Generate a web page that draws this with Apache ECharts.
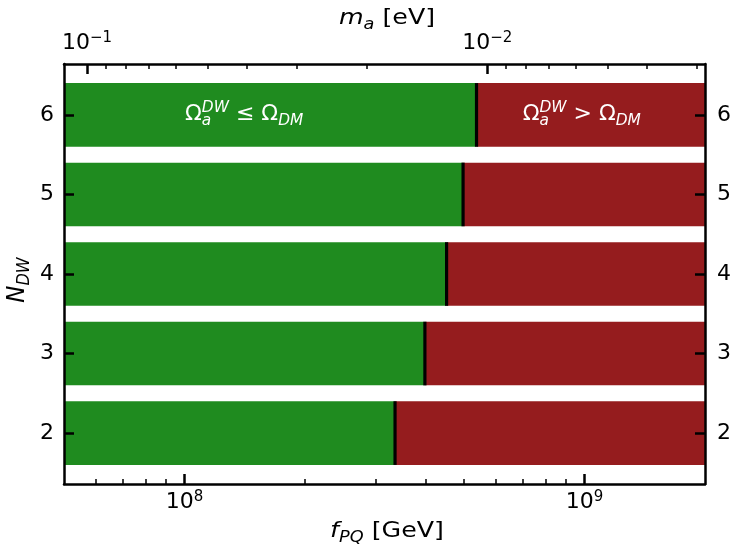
<!DOCTYPE html>
<html><head><meta charset="utf-8">
<script src="https://cdn.jsdelivr.net/npm/echarts@6/dist/echarts.min.js"></script>
<style>html,body{margin:0;padding:0;background:#fff}#c{width:734px;height:550px}</style>
</head><body><div id="c"></div>
<script>
// ---- data ----
const nDW = [2, 3, 4, 5, 6];
const fBoundary = [3.36e8, 3.99e8, 4.52e8, 4.97e8, 5.37e8];   // GeV
const fRange = [5e7, 2e9];                                      // GeV
const maTimesF = 5.71e6;                                        // m_a [eV] * f_PQ [GeV]
const xMajorTicks = [1e8, 1e9];
const xMinorTicks = [6e7, 7e7, 8e7, 9e7, 2e8, 3e8, 4e8, 5e8, 6e8, 7e8, 8e8, 9e8];
const topMajorTicks = [1e-1, 1e-2];
const topMinorTicks = [9e-2, 8e-2, 7e-2, 6e-2, 5e-2, 4e-2, 3e-2, 2e-2, 9e-3, 8e-3, 7e-3, 6e-3, 5e-3, 4e-3, 3e-3];
const nTicks = [2, 3, 4, 5, 6];
const regionLabelF = [1.41e8, 9.84e8];
const regionLabelN = 6;

// ---- style ----
const GREEN = '#1f8b1f', RED = '#951c1e';
const FONT = 'DejaVu Sans';
const L = Math.log10;
const gridL = 64, gridR = 24, gridT = 64, gridB = 66;
const W = 734, H = 550;

function mathGroup(pieces, color) {
  const ctx = document.createElement('canvas').getContext('2d');
  const fnt = p => (p.it ? 'italic ' : '') + p.s + 'px "' + FONT + '"';
  let x = 0; const items = [];
  const place = (p, x0) => { ctx.font = fnt(p); items.push({ p, x: x0 }); return ctx.measureText(p.t).width; };
  for (const p of pieces) {
    if (p.stack) { let mw = 0; for (const q of p.stack) mw = Math.max(mw, place(q, x)); x += mw; }
    else x += place(p, x);
  }
  const total = x;
  return items.map(({ p, x }) => ({
    type: 'text', x: x - total / 2, y: (p.dy || 0) - 0.35 * p.s, silent: true,
    style: { text: p.t, fill: color, fontSize: p.s, fontFamily: FONT, fontStyle: p.it ? 'italic' : 'normal',
             align: 'left', verticalAlign: 'middle' }
  }));
}

const S = 22, s = 15.4;
const lblGreen = [{ t: 'Ω', s: S }, { stack: [{ t: 'DW', s: s, it: 1, dy: -9 }, { t: 'a', s: s, it: 1, dy: 4 }] },
  { t: ' ≤ ', s: S }, { t: 'Ω', s: S }, { t: 'DM', s: s, it: 1, dy: 4 }];
const lblRed = [{ t: 'Ω', s: S }, { stack: [{ t: 'DW', s: s, it: 1, dy: -9 }, { t: 'a', s: s, it: 1, dy: 4 }] },
  { t: ' > ', s: S }, { t: 'Ω', s: S }, { t: 'DM', s: s, it: 1, dy: 4 }];

const supRich = {
  b: { fontSize: 22, lineHeight: 25, fontFamily: FONT, color: '#000' },
  sup: { fontSize: 15, verticalAlign: 'top', fontFamily: FONT, color: '#000' }
};
const expStr = e => String(e).replace('-', '\u2212');

const xLo = L(fRange[0]), xHi = L(fRange[1]);
const mLo = L(maTimesF / fRange[1]), mHi = L(maTimesF / fRange[0]);

const baseAxis = {
  type: 'value', splitLine: { show: false }, z: 10,
  axisLine: { show: true, lineStyle: { color: '#000', width: 2.5 } }
};

const option = {
  animation: false,
  grid: { left: gridL, right: gridR, top: gridT, bottom: gridB, containLabel: false },
  xAxis: [
    Object.assign({}, baseAxis, {
      position: 'bottom', min: xLo, max: xHi,
      axisTick: { inside: true, length: 10, lineStyle: { width: 2.5, color: '#000' }, customValues: xMajorTicks.map(L) },
      axisLabel: { margin: 6, customValues: xMajorTicks.map(L), rich: supRich,
        formatter: v => '{b|10}{sup|' + expStr(Math.round(v)) + '}' }
    }),
    Object.assign({}, baseAxis, {
      position: 'bottom', min: xLo, max: xHi, axisLine: { show: false },
      axisTick: { inside: true, length: 5, lineStyle: { width: 1.5, color: '#000' }, customValues: xMinorTicks.map(L) },
      axisLabel: { show: false }
    }),
    Object.assign({}, baseAxis, {
      position: 'top', min: mLo, max: mHi, inverse: true,
      axisTick: { inside: true, length: 10, lineStyle: { width: 2.5, color: '#000' }, customValues: topMajorTicks.map(L) },
      axisLabel: { margin: 8, customValues: topMajorTicks.map(L), rich: supRich,
        formatter: v => '{b|10}{sup|' + expStr(Math.round(v)) + '}' }
    }),
    Object.assign({}, baseAxis, {
      position: 'top', min: mLo, max: mHi, inverse: true, axisLine: { show: false },
      axisTick: { inside: true, length: 5, lineStyle: { width: 1.5, color: '#000' }, customValues: topMinorTicks.map(L) },
      axisLabel: { show: false }
    })
  ],
  yAxis: [
    Object.assign({}, baseAxis, {
      position: 'left', min: 1.36, max: 6.64,
      axisTick: { inside: true, length: 10, lineStyle: { width: 2.5, color: '#000' }, customValues: nTicks },
      axisLabel: { margin: 10, customValues: nTicks, fontSize: 22, fontFamily: FONT, color: '#000' }
    }),
    Object.assign({}, baseAxis, {
      position: 'right', min: 1.36, max: 6.64,
      axisTick: { inside: true, length: 10, lineStyle: { width: 2.5, color: '#000' }, customValues: nTicks },
      axisLabel: { margin: 12, customValues: nTicks, fontSize: 22, fontFamily: FONT, color: '#000' }
    })
  ],
  series: [
    {
      type: 'custom', xAxisIndex: 0, yAxisIndex: 0, z: 2, clip: false,
      data: nDW.map((n, i) => [n, L(fBoundary[i])]),
      encode: { x: 1, y: 0 },
      renderItem: (params, api) => {
        const n = api.value(0), xb = api.value(1);
        const pL = api.coord([xLo, n]), pB = api.coord([xb, n]), pR = api.coord([xHi, n]);
        const h = api.size([0, 0.8])[1];
        const top = pL[1] - h / 2;
        return { type: 'group', children: [
          { type: 'rect', shape: { x: pL[0], y: top, width: pB[0] - pL[0], height: h }, style: { fill: GREEN } },
          { type: 'rect', shape: { x: pB[0], y: top, width: pR[0] - pB[0], height: h }, style: { fill: RED } },
          { type: 'rect', shape: { x: pB[0] - 1.6, y: top, width: 3.2, height: h }, style: { fill: '#000' } }
        ] };
      }
    },
    {
      type: 'custom', xAxisIndex: 0, yAxisIndex: 0, z: 3, silent: true,
      data: regionLabelF.map((f, i) => [L(f), regionLabelN, i]),
      encode: { x: 0, y: 1 },
      renderItem: (params, api) => {
        const p = api.coord([api.value(0), api.value(1)]);
        return { type: 'group', x: p[0], y: p[1] + 7,
          children: mathGroup(api.value(2) === 0 ? lblGreen : lblRed, '#fff') };
      }
    }
  ],
  graphic: [
    { type: 'group', x: (gridL + W - gridR) / 2, y: 26, scaleX: 1.15,
      children: mathGroup([{ t: 'm', s: S, it: 1 }, { t: 'a', s: s, it: 1, dy: 4 }, { t: ' [eV]', s: S }], '#000') },
    { type: 'group', x: (gridL + W - gridR) / 2, y: 539, scaleX: 1.15,
      children: mathGroup([{ t: 'f', s: S, it: 1 }, { t: 'PQ', s: s, it: 1, dy: 4 }, { t: ' [GeV]', s: S }], '#000') },
    { type: 'group', x: 26, y: 280, rotation: Math.PI / 2, scaleY: 1.1,
      children: mathGroup([{ t: 'N', s: 23, it: 1 }, { t: 'DW', s: 16, it: 1, dy: 4 }], '#000') }
  ]
};

const chart = echarts.init(document.getElementById('c'), null, { renderer: 'canvas' });
chart.setOption(option);
</script>
</body></html>
